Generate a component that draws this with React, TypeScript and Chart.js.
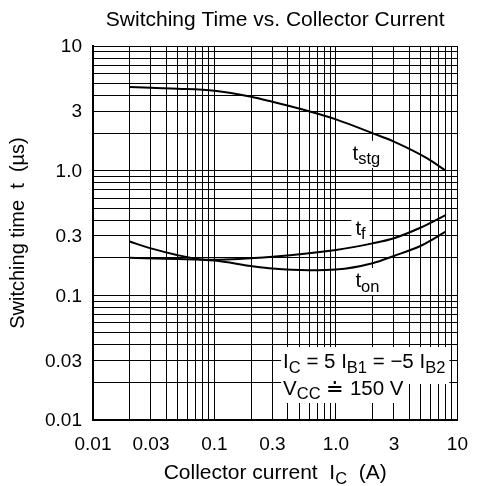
import { useEffect, useRef } from 'react';
import { Chart, registerables } from 'chart.js';

Chart.register(...registerables);

const FONT = '"Liberation Sans", Arial, Helvetica, sans-serif';

// Collector current I_C (A) and switching times (µs) for each curve
const tstgCurrent = [0.02, 0.03, 0.05, 0.1, 0.2, 0.3, 0.6, 1, 2, 3, 5.6, 8];
const tstgTime = [4.7, 4.62, 4.55, 4.38, 3.92, 3.57, 3.0, 2.58, 2.0, 1.71, 1.26, 1.0];

const tfCurrent = [0.02, 0.03, 0.05, 0.075, 0.1, 0.3, 1, 2, 3, 5, 8];
const tfTime = [0.27, 0.238, 0.21, 0.195, 0.193, 0.204, 0.231, 0.261, 0.287, 0.35, 0.44];

const tonCurrent = [0.02, 0.05, 0.1, 0.2, 0.3, 0.6, 1, 2, 3, 5, 8];
const tonTime = [0.2, 0.196, 0.19, 0.172, 0.164, 0.159, 0.161, 0.181, 0.207, 0.25, 0.324];

// Axis ranges and labelled ticks
const axisMin = 0.01;
const axisMax = 10;
const xTickValues = [0.01, 0.03, 0.1, 0.3, 1, 3, 10];
const xTickLabels = ['0.01', '0.03', '0.1', '0.3', '1.0', '3', '10'];
const yTickValues = [0.01, 0.03, 0.1, 0.3, 1, 3, 10];
const yTickLabels = ['0.01', '0.03', '0.1', '0.3', '1.0', '3', '10'];

const titleText = 'Switching Time vs. Collector Current';
const yTitleText = 'Switching time  t  (\u00b5s)';

type Run = { t: string; sub?: boolean };

// Curve names placed in data coordinates (current, time)
const curveLabels: { at: [number, number]; runs: Run[] }[] = [
  { at: [1.37, 1.22], runs: [{ t: 't' }, { t: 'stg', sub: true }] },
  { at: [1.445, 0.305], runs: [{ t: 't' }, { t: 'f', sub: true }] },
  { at: [1.445, 0.1166], runs: [{ t: 't' }, { t: 'on', sub: true }] },
];

// Test conditions
const condLine1: Run[] = [
  { t: 'I' }, { t: 'C', sub: true }, { t: ' = 5 I' }, { t: 'B1', sub: true },
  { t: ' = \u22125 I' }, { t: 'B2', sub: true },
];
const condLine2: Run[] = [{ t: 'V' }, { t: 'CC', sub: true }, { t: ' \u2250 150 V' }];
const condAnchor: [number, number, number] = [0.367, 0.0261, 0.01587];

const xTitleRuns: Run[] = [{ t: 'Collector current  I' }, { t: 'C', sub: true }, { t: '  (A)' }];

const MAIN_SIZE = 20.5;
const SUB_SIZE = 16.5;
const SUB_DROP = 4.5;

function gridValues(): number[] {
  const out: number[] = [];
  for (let e = -2; e <= 0; e++) {
    for (let m = 1; m <= 9; m++) out.push(parseFloat((m * Math.pow(10, e)).toPrecision(3)));
  }
  out.push(axisMax);
  return out;
}

function labelFor(values: number[], labels: string[], v: number): string {
  const i = values.findIndex((tv) => Math.abs(Math.log10(tv) - Math.log10(v)) < 1e-6);
  return i >= 0 ? labels[i] : '';
}

function runsWidth(ctx: CanvasRenderingContext2D, runs: Run[], main = MAIN_SIZE): number {
  let w = 0;
  for (const r of runs) {
    ctx.font = `${r.sub ? SUB_SIZE : main}px ${FONT}`;
    w += ctx.measureText(r.t).width;
  }
  return w;
}

function drawRuns(ctx: CanvasRenderingContext2D, runs: Run[], x: number, y: number, main = MAIN_SIZE) {
  let cx = x;
  ctx.textAlign = 'left';
  ctx.textBaseline = 'alphabetic';
  for (const r of runs) {
    ctx.font = `${r.sub ? SUB_SIZE : main}px ${FONT}`;
    ctx.fillText(r.t, cx, r.sub ? y + SUB_DROP : y);
    cx += ctx.measureText(r.t).width;
  }
}

const textPlugin = {
  id: 'chartText',
  beforeDatasetsDraw(chart: any) {
    const { ctx, scales } = chart;
    const xs = scales.x;
    const ys = scales.y;
    ctx.save();
    // curve names on white patches that hide the grid behind them
    for (const lab of curveLabels) {
      const px = xs.getPixelForValue(lab.at[0]);
      const py = ys.getPixelForValue(lab.at[1]);
      const w = runsWidth(ctx, lab.runs);
      ctx.fillStyle = '#fff';
      ctx.fillRect(px - 4, py - 19, w + 8, 27);
      ctx.fillStyle = '#000';
      drawRuns(ctx, lab.runs, px, py);
    }
    // test-condition note
    const cx = xs.getPixelForValue(condAnchor[0]);
    const b1 = ys.getPixelForValue(condAnchor[1]);
    const b2 = ys.getPixelForValue(condAnchor[2]);
    const w1 = runsWidth(ctx, condLine1);
    const w2 = runsWidth(ctx, condLine2);
    ctx.fillStyle = '#fff';
    ctx.fillRect(cx - 2, b1 - 21, w1 + 6, 37);
    ctx.fillRect(cx - 2, b1 + 15, w2 + 6, b2 - b1 - 7);
    ctx.fillStyle = '#000';
    drawRuns(ctx, condLine1, cx, b1);
    drawRuns(ctx, condLine2, cx, b2);
    ctx.restore();
  },
  afterDraw(chart: any) {
    const { ctx, chartArea } = chart;
    const mid = (chartArea.left + chartArea.right) / 2;
    ctx.save();
    ctx.fillStyle = '#000';
    ctx.textAlign = 'center';
    ctx.textBaseline = 'alphabetic';
    ctx.font = `21px ${FONT}`;
    ctx.fillText(titleText, mid, 26);
    const w = runsWidth(ctx, xTitleRuns, 21);
    drawRuns(ctx, xTitleRuns, mid - w / 2, 479, 21);
    ctx.restore();
  },
};

function pts(xs: number[], ys: number[]) {
  return xs.map((x, i) => ({ x, y: ys[i] }));
}

export default function App() {
  const canvasRef = useRef<HTMLCanvasElement | null>(null);

  useEffect(() => {
    if (!canvasRef.current) return;
    const grid = gridValues();
    const curve = (label: string, data: { x: number; y: number }[]) => ({
      label,
      data,
      borderColor: '#000',
      borderWidth: 2,
      pointRadius: 0,
      fill: false,
      showLine: true,
      cubicInterpolationMode: 'monotone' as const,
    });
    const chart = new Chart(canvasRef.current, {
      type: 'line',
      data: {
        datasets: [
          curve('tstg', pts(tstgCurrent, tstgTime)),
          curve('tf', pts(tfCurrent, tfTime)),
          curve('ton', pts(tonCurrent, tonTime)),
        ],
      },
      options: {
        responsive: false,
        animation: false,
        devicePixelRatio: 1,
        layout: { padding: { top: 46, right: 20, left: 0, bottom: 0 } },
        plugins: {
          legend: { display: false },
          tooltip: { enabled: false },
          title: { display: false },
        },
        scales: {
          x: {
            type: 'logarithmic',
            position: 'bottom',
            min: axisMin,
            max: axisMax,
            afterBuildTicks: (scale: any) => {
              scale.ticks = grid.map((v) => ({ value: v }));
            },
            afterFit: (scale: any) => {
              scale.height = 66;
            },
            grid: { color: '#000', lineWidth: 1, drawTicks: false },
            border: { color: '#000', width: 2 },
            ticks: {
              autoSkip: false,
              maxRotation: 0,
              padding: 13,
              color: '#000',
              font: { family: FONT, size: 19 },
              callback: (v: any) => labelFor(xTickValues, xTickLabels, Number(v)),
            },
          },
          y: {
            type: 'logarithmic',
            position: 'left',
            min: axisMin,
            max: axisMax,
            afterBuildTicks: (scale: any) => {
              scale.ticks = grid.map((v) => ({ value: v }));
            },
            afterFit: (scale: any) => {
              scale.width = 93;
            },
            grid: { color: '#000', lineWidth: 1, drawTicks: false },
            border: { color: '#000', width: 2 },
            title: {
              display: true,
              text: yTitleText,
              color: '#000',
              font: { family: FONT, size: 20 },
              padding: { top: 6, bottom: 0 },
            },
            ticks: {
              autoSkip: false,
              padding: 11,
              labelOffset: 1,
              color: '#000',
              font: { family: FONT, size: 19 },
              callback: (v: any) => labelFor(yTickValues, yTickLabels, Number(v)),
            },
          },
        },
      },
      plugins: [textPlugin],
    } as any);
    return () => chart.destroy();
  }, []);

  return (
    <div style={{ position: 'absolute', left: 0, top: 0, width: 481, height: 486, background: '#fff' }}>
      <canvas ref={canvasRef} width={481} height={486} style={{ display: 'block' }} />
    </div>
  );
}
